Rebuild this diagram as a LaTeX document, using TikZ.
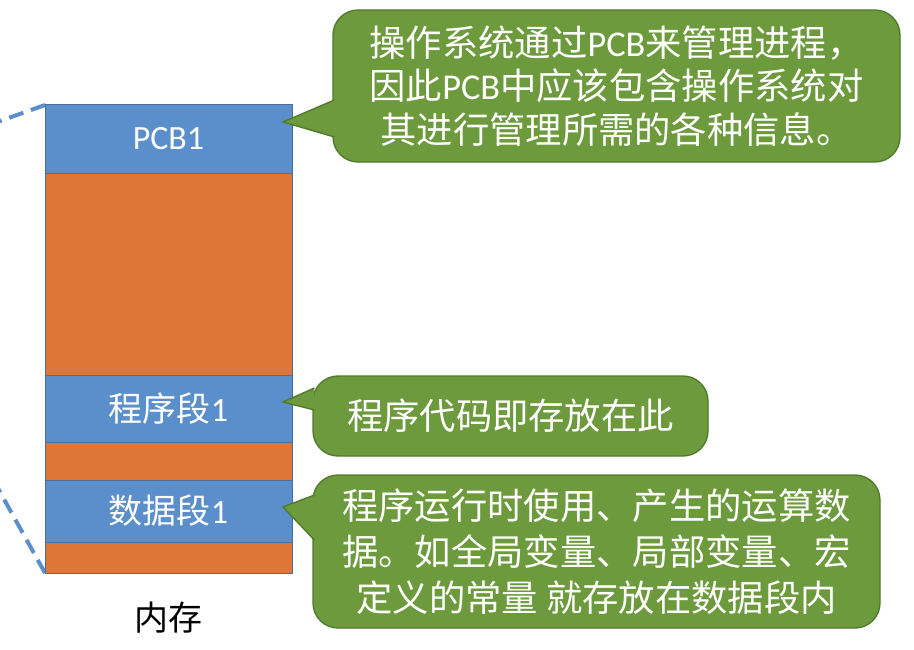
\documentclass[tikz,border=0pt]{standalone}
\usepackage{fontspec}
\setmainfont{Carlito}
\newfontfamily\cjk{Noto Sans CJK SC}
\newfontfamily\lat{Carlito}
\usetikzlibrary{calc}
\definecolor{memblue}{HTML}{5B8FCB}
\definecolor{memorange}{HTML}{DE7539}
\definecolor{segline}{HTML}{4A6E94}
\definecolor{notegreen}{HTML}{6C9A3C}
\definecolor{notedraw}{HTML}{4F7A2B}
\tikzset{
  seg/.style={draw=segline, line width=0.3mm},
  blueseg/.style={seg, fill=memblue},
  orangeseg/.style={seg, fill=memorange},
  lbl/.style={text=white, font=\cjk\fontsize{29}{36}\selectfont},
  note/.style={draw=notedraw, fill=notegreen, line width=0.4mm, rounded corners=7.5mm,
    text=white, align=center, inner sep=0pt, font=\cjk\fontsize{31}{37}\selectfont},
  tail/.style={draw=notedraw, fill=notegreen, line width=0.4mm, line join=miter},
  lead/.style={draw=memblue, line width=1.2mm, dash pattern=on 4.5mm off 2.4mm},
}

\begin{document}
\begin{tikzpicture}[x=0.3mm, y=-0.3mm]
	%%%%% START %%%%%
	\useasboundingbox (0,0) rectangle (914,649);
	\fill[white] (0,0) rectangle (914,649);
	\clip (0,0) rectangle (914,649);
	
	\draw[lead] (45,105) -- (-10,124.6);
	\draw[lead] (45,573) -- (-10,474);
	
	\draw[orangeseg] (45,173) rectangle (292,375);
	\draw[orangeseg] (45,442) rectangle (292,480);
	\draw[orangeseg] (45,542) rectangle (292,573);
	\draw[blueseg] (45,105) rectangle (292,173);
	\draw[blueseg] (45,375) rectangle (292,442);
	\draw[blueseg] (45,480) rectangle (292,542);
	
	\node[lbl] (pcb1) at (168.5,139) {\lat PCB1};
	\node[lbl] (code1) at (168.5,408.5) {程序段{\lat 1}};
	\node[lbl] (data1) at (168.5,511) {数据段{\lat 1}};
	\node[lbl, text=black] (mem) at (168.5,618) {内存};
	
	\node[note, minimum width=170.1mm, minimum height=45.6mm] (note1) at (616.5,86)
		{操作系统通过{\lat PCB}来管理进程，\\因此{\lat PCB}中应该包含操作系统对\\其进行管理所需的各种信息。};
	\node[note, minimum width=118.5mm, minimum height=24mm] (note2) at (510.5,416)
		{程序代码即存放在此};
	\node[note, minimum width=170.1mm, minimum height=45.9mm,
		font=\cjk\fontsize{31}{39}\selectfont] (note3) at (596.5,551.5)
		{程序运行时使用、产生的运算数\\据。如全局变量、局部变量、宏\\定义的常量 就存放在数据段内};
	
	\coordinate (tip1) at (283,122);
	\coordinate (tip2) at (283,402);
	\coordinate (tip3) at (283,507);
	\filldraw[tail] ($(note1.west)+(2,14)$) -- (tip1) -- ($(note1.west)+(2,51)$);
	\filldraw[tail] ($(note2.west)+(2,-28)$) -- (tip2) -- ($(note2.west)+(2,-6)$);
	\filldraw[tail] ($(note3.west)+(2,-56.5)$) -- (tip3) -- ($(note3.west)+(2,-11.5)$);
	%%%%% END %%%%%
\end{tikzpicture}
\end{document}
